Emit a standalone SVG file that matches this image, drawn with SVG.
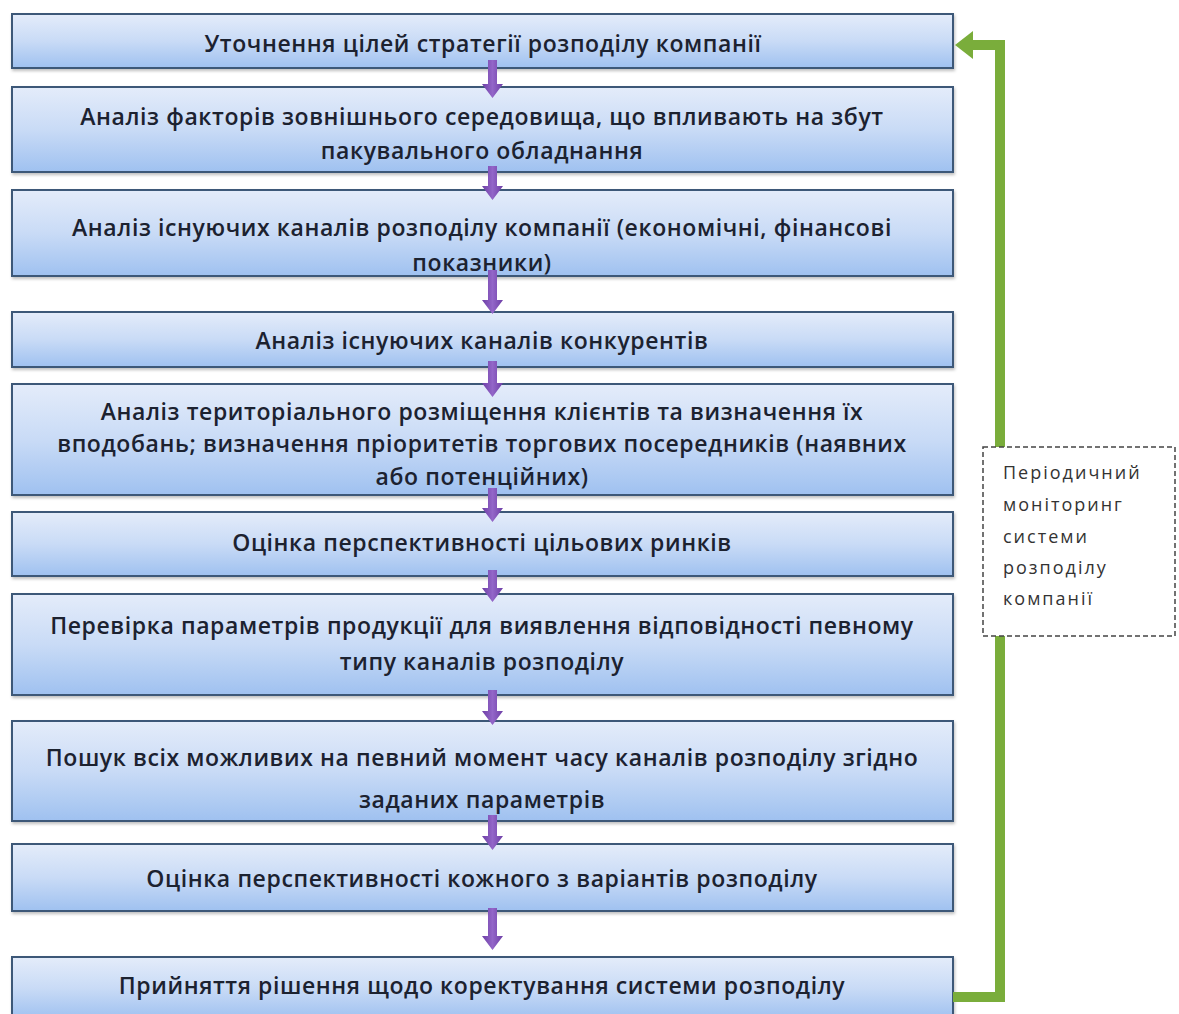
<svg xmlns="http://www.w3.org/2000/svg" width="1179" height="1014" viewBox="0 0 1179 1014">
<defs>
<linearGradient id="boxg" x1="0" y1="0" x2="0" y2="1">
<stop offset="0" stop-color="#e4ecfa"/>
<stop offset="0.5" stop-color="#c9dbf6"/>
<stop offset="1" stop-color="#9fc1f0"/>
</linearGradient>
<linearGradient id="arrg" x1="0" y1="0" x2="1" y2="0">
<stop offset="0" stop-color="#6d3ea6"/>
<stop offset="0.5" stop-color="#9366c8"/>
<stop offset="1" stop-color="#6d3ea6"/>
</linearGradient>
<filter id="sh" x="-5%" y="-20%" width="110%" height="150%">
<feDropShadow dx="1" dy="2" stdDeviation="1.5" flood-color="#000" flood-opacity="0.25"/>
</filter>
</defs>
<style>
.box{fill:url(#boxg);stroke:#3d5878;stroke-width:2;filter:url(#sh)}
.t{font-family:"Open Sans","Noto Sans","DejaVu Sans",sans-serif;font-size:23px;font-weight:600;letter-spacing:0.6px;fill:#1c2230;text-anchor:middle;dominant-baseline:central}
.arr{fill:url(#arrg)}
.side{font-family:"Open Sans","Noto Sans","DejaVu Sans",sans-serif;font-size:18px;fill:#333;letter-spacing:2px;dominant-baseline:central}
.green{fill:none;stroke:#7aad3b;stroke-width:10}
</style>
<rect width="1179" height="1014" fill="#ffffff"/>

<g id="n1"><rect class="box" x="12" y="14" width="941" height="54"/><text class="t" x="483" y="43">Уточнення цілей стратегії розподілу компанії</text></g>
<g id="n2"><rect class="box" x="12" y="87" width="941" height="85"/><text class="t" x="482" y="116">Аналіз факторів зовнішнього середовища, що впливають на збут</text><text class="t" x="482" y="150">пакувального обладнання</text></g>
<g id="n3"><rect class="box" x="12" y="190" width="941" height="86"/><text class="t" x="482" y="227">Аналіз існуючих каналів розподілу компанії (економічні, фінансові</text><text class="t" x="482" y="262">показники)</text></g>
<g id="n4"><rect class="box" x="12" y="312" width="941" height="55"/><text class="t" x="482" y="340">Аналіз існуючих каналів конкурентів</text></g>
<g id="n5"><rect class="box" x="12" y="384" width="941" height="111"/><text class="t" x="482" y="411">Аналіз територіального розміщення клієнтів та визначення їх</text><text class="t" x="482" y="443">вподобань; визначення пріоритетів торгових посередників (наявних</text><text class="t" x="482" y="476">або потенційних)</text></g>
<g id="n6"><rect class="box" x="12" y="512" width="941" height="64"/><text class="t" x="482" y="542">Оцінка перспективності цільових ринків</text></g>
<g id="n7"><rect class="box" x="12" y="594" width="941" height="101"/><text class="t" x="482" y="625">Перевірка параметрів продукції для виявлення відповідності певному</text><text class="t" x="482" y="661">типу каналів розподілу</text></g>
<g id="n8"><rect class="box" x="12" y="721" width="941" height="100"/><text class="t" x="482" y="757">Пошук всіх можливих на певний момент часу каналів розподілу згідно</text><text class="t" x="482" y="799">заданих параметрів</text></g>
<g id="n9"><rect class="box" x="12" y="844" width="941" height="67"/><text class="t" x="482" y="878">Оцінка перспективності кожного з варіантів розподілу</text></g>
<g id="n10"><rect class="box" x="12" y="957" width="941" height="62"/><text class="t" x="482" y="985">Прийняття рішення щодо коректування системи розподілу</text></g>

<g id="connectors">
<path class="arr" d="M488 60 H497 V84 H503 L492.5 98 L482 84 H488 Z"/>
<path class="arr" d="M488 166 H497 V186 H503 L492.5 200 L482 186 H488 Z"/>
<path class="arr" d="M488 270 H497 V300 H503 L492.5 314 L482 300 H488 Z"/>
<path class="arr" d="M488 361 H497 V383 H503 L492.5 397 L482 383 H488 Z"/>
<path class="arr" d="M488 488 H497 V508 H503 L492.5 522 L482 508 H488 Z"/>
<path class="arr" d="M488 570 H497 V588 H503 L492.5 602 L482 588 H488 Z"/>
<path class="arr" d="M488 690 H497 V711 H503 L492.5 725 L482 711 H488 Z"/>
<path class="arr" d="M488 815 H497 V836 H503 L492.5 850 L482 836 H488 Z"/>
<path class="arr" d="M488 908 H497 V936 H503 L492.5 950 L482 936 H488 Z"/>
<path class="green" d="M953 997 H1000 V45 H970"/>
<polygon points="955,45 973,31 973,59" fill="#7aad3b"/>
</g>

<g id="monitor">
<rect x="983" y="447" width="192" height="189" fill="#ffffff" stroke="#444" stroke-width="1.5" stroke-dasharray="5,3"/>
<text class="side" x="1003" y="472">Періодичний</text>
<text class="side" x="1003" y="504">моніторинг</text>
<text class="side" x="1003" y="536">системи</text>
<text class="side" x="1003" y="567">розподілу</text>
<text class="side" x="1003" y="598">компанії</text>
</g>
</svg>
